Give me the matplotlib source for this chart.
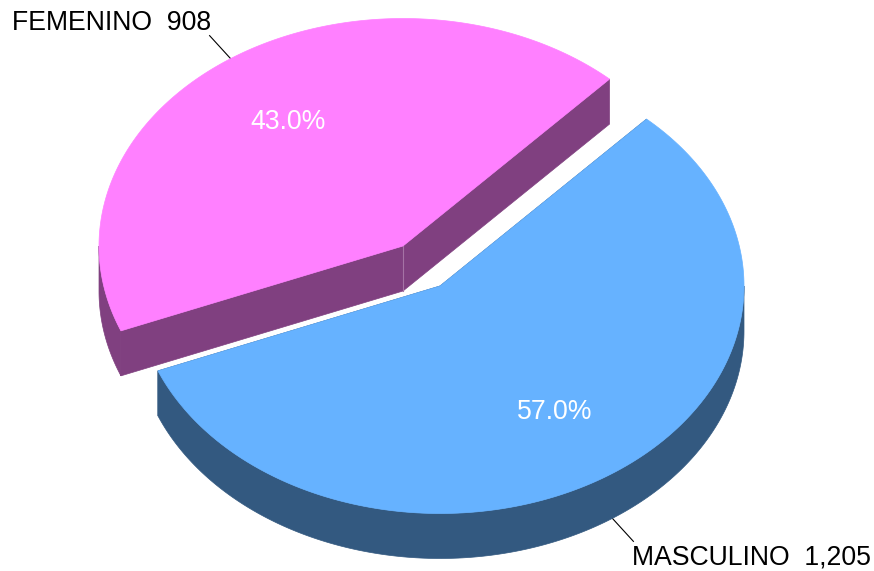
#!/usr/bin/env python3

from matplotlib import pyplot as plt
import numpy as np

names = ["FEMENINO", "MASCULINO"]
counts = [908, 1205]
count_labels = ["908", "1,205"]
percent_labels = ["43.0%", "57.0%"]
top_colors = ["#FF80FF", "#66B2FF"]
side_colors = ["#804080", "#335980"]

START_ANGLE = 47.2
RX, RY = 304, 227.5
DEPTH = 45
CENTERS = [(403, 246), (440, 286)]


def ellipse(center, angles):
    t = np.radians(angles)
    return center[0] + RX * np.cos(t), center[1] - RY * np.sin(t)


def draw_slice(ax, center, a0, a1, top, side):
    # visible part of the rim: the lower half of the ellipse
    lo, hi = min(a0, a1), max(a0, a1)
    for rng in [(180, 360), (-180, 0)]:
        s, e = max(lo, rng[0]), min(hi, rng[1])
        if s < e:
            x, y = ellipse(center, np.linspace(s, e, 200))
            ax.fill(
                np.r_[x, x[::-1]], np.r_[y, y[::-1] + DEPTH],
                color=side, lw=0.5, zorder=2,
            )

    # straight cut faces
    for a in (a0, a1):
        x, y = ellipse(center, np.array([a]))
        ax.fill(
            [center[0], x[0], x[0], center[0]],
            [center[1], y[0], y[0] + DEPTH, center[1] + DEPTH],
            color=side, lw=0.5, zorder=2,
        )

    x, y = ellipse(center, np.linspace(a0, a1, 400))
    ax.fill(np.r_[center[0], x], np.r_[center[1], y], color=top, lw=0.5, zorder=3)


def main():
    fig = plt.figure(figsize=(8.74, 5.71), dpi=100)
    ax = fig.add_axes([0, 0, 1, 1])
    ax.set_xlim(0, 874)
    ax.set_ylim(571, 0)
    ax.axis("off")

    plt.rcParams["font.family"] = ["Liberation Sans", "DejaVu Sans"]

    total = sum(counts)
    sweep_f = 360 * counts[0] / total
    sweep_m = 360 * counts[1] / total

    # femenino runs counter-clockwise from the start angle, masculino clockwise
    spans = [(START_ANGLE, START_ANGLE + sweep_f), (START_ANGLE - sweep_m, START_ANGLE)]

    for i in range(2):
        a0, a1 = spans[i]
        draw_slice(ax, CENTERS[i], a0, a1, top_colors[i], side_colors[i])

    # seam between the two cut faces of the pink slice
    cx, cy = CENTERS[0]
    ax.plot([cx, cx], [cy, cy + DEPTH], color="#A573A5", lw=0.8, zorder=2.5)

    for i in range(2):
        mid = sum(spans[i]) / 2
        px, py = ellipse(CENTERS[i], np.array([mid]))
        t = np.radians(mid)
        cx, cy = CENTERS[i]
        ax.text(
            cx + 0.666 * RX * np.cos(t), cy + 1 - 0.666 * RY * np.sin(t),
            percent_labels[i], color="white", fontsize=19.2,
            ha="center", va="center", zorder=5,
        )

        if i == 0:
            x0, y0 = px[0], py[0]
            x1, y1 = x0 - 21, y0 - 23
            ax.text(
                x1 + 1.5, y1 - 13, names[i] + "  " + count_labels[i],
                fontsize=19.2, ha="right", va="center", color="black",
            )
        else:
            x0, y0 = px[0], py[0] + DEPTH
            x1, y1 = x0 + 21, y0 + 23
            ax.text(
                x1 - 1, y1 + 16, names[i] + "  " + count_labels[i],
                fontsize=19.2, ha="left", va="center", color="black",
            )
        ax.plot([x0, x1], [y0, y1], color="black", lw=0.8, zorder=1)

    fig.savefig("out.png", dpi=100)


if __name__ == "__main__":
    main()
